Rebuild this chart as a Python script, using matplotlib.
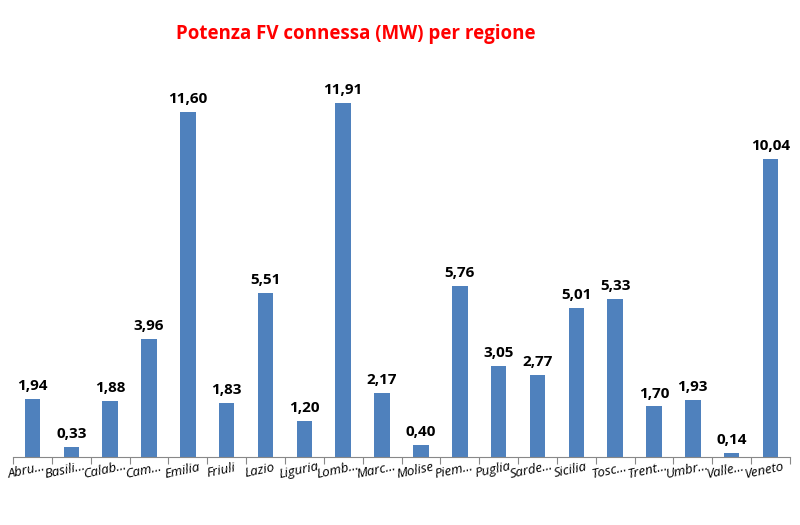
import matplotlib
matplotlib.use("Agg")
import matplotlib.pyplot as plt

# data
regioni = ["Abru...", "Basili...", "Calab...", "Cam...", "Emilia", "Friuli", "Lazio",
           "Liguria", "Lomb...", "Marc...", "Molise", "Piem...", "Puglia", "Sarde...",
           "Sicilia", "Tosc...", "Trent...", "Umbr...", "Valle...", "Veneto"]
potenza = [1.94, 0.33, 1.88, 3.96, 11.60, 1.83, 5.51, 1.20, 11.91, 2.17, 0.40,
           5.76, 3.05, 2.77, 5.01, 5.33, 1.70, 1.93, 0.14, 10.04]

plt.rcParams['font.family'] = ['Open Sans', 'DejaVu Sans']

fig = plt.figure(figsize=(8, 5.25), dpi=100)
ax = fig.add_axes([13 / 800, 68 / 525, 777 / 800, 397 / 525])

x = range(len(regioni))
ax.bar(x, potenza, width=0.4, color='#4f81bd')
ax.set_xlim(-0.5, len(regioni) - 0.5)
ax.set_ylim(0, 13.36)

for i, v in enumerate(potenza):
    ax.text(i, v + 0.2, f"{v:.2f}".replace('.', ','), ha='center', va='bottom',
            fontsize=11, fontweight='bold')

for s in ['top', 'right', 'left']:
    ax.spines[s].set_visible(False)
ax.spines['bottom'].set_color('#888888')
ax.set_yticks([])
ax.set_xticks([i - 0.5 for i in range(len(regioni) + 1)])
ax.set_xticklabels([])
ax.tick_params(axis='x', length=5, color='#888888')
for i, lab in enumerate(regioni):
    ax.text(i - 0.15, -0.45, lab, rotation=12, ha='center', va='center', fontsize=9.5,
            style='italic', rotation_mode='anchor')

fig.text(0.445, 0.935, "Potenza FV connessa (MW) per regione", color='#ff0000',
         fontsize=13.5, fontweight='bold', ha='center', va='center')

fig.savefig("out.png", dpi=100)
